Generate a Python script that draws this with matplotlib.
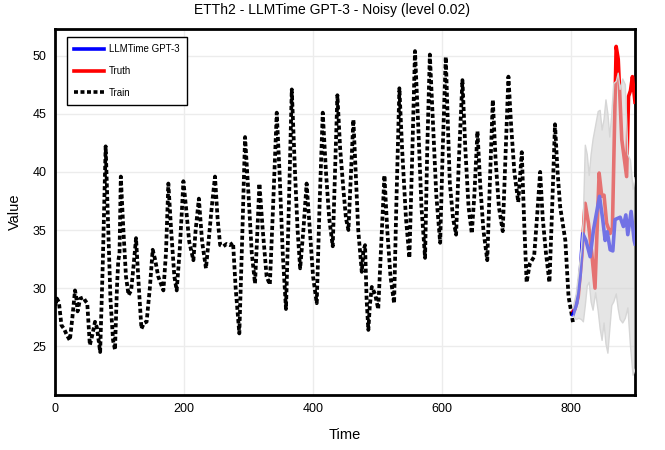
import matplotlib
matplotlib.use("Agg")
import matplotlib.pyplot as plt
from matplotlib.lines import Line2D

plt.rcParams['font.family'] = ['Liberation Sans', 'DejaVu Sans']

# ---- data ----
train_x = [0, 3, 6, 10, 14, 18, 23, 27, 31, 33, 35, 39, 44, 47, 50, 54, 58, 62, 65, 70,
           74, 78.5, 82, 86, 90, 93, 96, 98, 100, 102, 106, 110, 114, 118, 121.4, 125.6, 130, 134,
           138, 142, 147, 151.4, 155, 160, 168, 172, 175.7, 180, 185, 188.6, 193, 197, 199,
           203, 208, 214.5, 218, 223, 228, 234, 238, 243, 248, 252, 256, 261, 266, 271, 276,
           280, 285.7, 290, 294.6, 300, 305, 310, 313, 316.8, 322, 328, 333, 338, 343.7, 348,
           353, 358, 362, 367, 372, 376, 380, 385, 390, 395, 400, 405.7, 410, 415, 420, 425,
           430.5, 434, 437.7, 442, 447, 451, 454.8, 458, 462.5, 466, 470, 475.5, 478, 480.6,
           483, 485.7, 488, 491, 496, 501, 505, 510.6, 515, 520, 525.6, 529, 533.8, 538, 544,
           549.3, 554, 558, 563, 568, 573.6, 577, 581, 586, 591, 597, 601, 605.7, 609, 612,
           617, 621.7, 626, 631.5, 636, 641, 646, 650, 654.8, 659, 664, 670, 674, 678.6, 683,
           688, 694, 698, 702.8, 707, 712, 718, 723.5, 727, 731, 736, 742.6, 747, 752, 756,
           761, 766.4, 770, 775, 779, 783, 791, 796, 800, 803]
train_y = [28.5, 29.1, 28.8, 26.8, 26.5, 26.0, 25.5, 27.5, 29.8, 29.2, 28.0, 29.1, 29.2, 28.9, 28.7, 25.1, 26.0, 27.1, 26.6, 24.5,
           32.0, 42.2, 36.0, 29.0, 25.5, 24.7, 30.0, 32.3, 33.0, 39.6, 35.0, 31.0, 29.4, 29.8, 31.7, 34.3, 30.0, 26.5,
           27.0, 27.1, 30.0, 33.3, 32.5, 31.0, 29.8, 33.0, 39.0, 35.0, 31.0, 29.8, 33.0, 37.0, 39.2,
           37.0, 34.0, 32.4, 35.0, 37.7, 34.0, 31.7, 34.0, 37.0, 39.6, 36.0, 33.7, 33.6, 33.8, 33.7, 33.9,
           30.0, 26.1, 34.0, 43.0, 38.0, 33.0, 30.4, 34.0, 39.0, 35.0, 31.0, 30.3, 37.0, 45.1, 40.0,
           33.0, 28.2, 36.0, 47.1, 40.0, 35.0, 31.7, 35.0, 39.0, 35.0, 31.0, 28.7, 37.0, 45.1, 40.0, 36.0,
           33.6, 40.0, 46.6, 42.0, 38.5, 36.0, 35.0, 39.0, 44.5, 40.0, 35.0, 31.4, 33.2, 33.7,
           29.0, 26.4, 28.5, 30.1, 29.5, 28.2, 33.0, 39.7, 35.0, 31.0, 28.7, 37.0, 47.2, 42.0, 36.0,
           32.6, 42.0, 50.4, 44.0, 37.0, 32.6, 42.0, 50.1, 44.0, 38.0, 33.9, 42.0, 49.9, 44.0, 39.0,
           36.0, 34.6, 41.0, 47.9, 42.0, 37.0, 34.7, 38.0, 43.5, 39.0, 35.0, 32.4, 39.0, 46.2, 41.0,
           37.0, 34.9, 41.0, 48.2, 44.0, 40.0, 37.4, 41.7, 36.0, 30.5, 32.1, 32.7, 36.0, 40.0, 36.0,
           33.0, 30.5, 36.0, 44.1, 40.0, 37.0, 34.1, 29.25, 28.0, 27.0]

truth_x = [803, 806, 811, 816.5, 821.7, 826.8, 832, 837, 843.4, 847.5, 851, 855, 860.5, 864,
           869.8, 873, 878.5, 886, 889, 892, 895, 899]
truth_y = [28.0, 28.2, 29.25, 32.7, 37.3, 35.6, 33.0, 30.0, 39.9, 37.9, 38.0, 35.6, 34.7, 35.2,
           50.8, 49.7, 42.8, 39.6, 46.5, 47.0, 48.2, 46.0]

median_x = [803, 808.8, 814, 818, 823, 829.5, 834.6, 844, 849, 852.7, 856, 860.5, 864.6, 868,
            876, 881, 884.8, 887.8, 893, 897.7, 899]
median_y = [27.7, 28.7, 31.1, 34.7, 34.1, 32.7, 35.0, 37.9, 35.9, 34.1, 34.85, 33.3, 33.2, 35.9,
            36.1, 35.3, 36.3, 34.6, 36.6, 34.1, 33.8]

band_x = [803, 808, 812, 816, 819, 822, 825, 828, 831, 834, 838, 842, 845, 848, 851, 854, 857,
          860, 863, 866, 870, 873, 876, 880, 884, 888, 892, 896, 899]
band_lo = [27.6, 27.3, 27.4, 27.3, 27.1, 28.5, 30.2, 30.5, 28.8, 28.1, 29.6, 28.0, 26.5, 25.5, 27.0,
           25.2, 24.4, 26.5, 28.5, 28.8, 29.5, 28.2, 27.3, 27.0, 27.4, 28.3, 25.0, 22.5, 23.0]
band_hi = [28.3, 29.5, 31.5, 33.5, 36.1, 42.3, 41.5, 39.7, 41.5, 42.8, 44.0, 45.2, 45.3, 43.6, 44.5,
           46.2, 45.0, 43.0, 45.0, 47.6, 47.8, 48.5, 47.1, 48.0, 47.5, 41.5, 41.0, 38.5, 39.5]

title = "ETTh2 - LLMTime GPT-3 - Noisy (level 0.02)"
x_ticks = [0, 200, 400, 600, 800]
y_ticks = [25, 30, 35, 40, 45, 50]

# ---- figure ----
fig = plt.figure(figsize=(6.65, 4.5), dpi=100)
ax = fig.add_axes([55/665, 1 - 395/450, 580/665, 366/450])

ax.plot(train_x, train_y, color='black', lw=2.7, linestyle=(0, (1.1, 0.7)),
        dash_capstyle='butt', zorder=3)
ax.plot(truth_x, truth_y, color='red', lw=2.6, zorder=3)
ax.plot(median_x, median_y, color='blue', lw=2.6, zorder=3)
ax.fill_between(band_x, band_lo, band_hi, facecolor=(0.82, 0.82, 0.82), alpha=0.55,
                edgecolor='none', zorder=4)
ax.plot(band_x, band_lo, color=(0.84, 0.84, 0.84), lw=1.0, zorder=4)
ax.plot(band_x, band_hi, color=(0.84, 0.84, 0.84), lw=1.0, zorder=4)

ax.set_xlim(0, 899)
ax.set_ylim(20.8, 52.3)
ax.set_xticks(x_ticks)
ax.set_yticks(y_ticks)
ax.tick_params(length=0, labelsize=9, pad=6)
ax.grid(True, color='#ececec', lw=1.0, zorder=0)
ax.set_axisbelow(True)
for s in ax.spines.values():
    s.set_color('black')
    s.set_linewidth(2)

ax.set_xlabel("Time", fontsize=10.5, labelpad=9)
ax.set_ylabel("Value", fontsize=10.5, labelpad=8)
fig.text(0.5, 1 - 10/450, title, ha='center', va='center', fontsize=10)

handles = [Line2D([], [], color='blue', lw=2.6),
           Line2D([], [], color='red', lw=2.6),
           Line2D([], [], color='black', lw=2.6, linestyle=(0, (1.1, 0.7)))]
leg = ax.legend(handles, ["LLMTime GPT-3", "Truth", "Train"], loc='upper left',
                bbox_to_anchor=(12/580, 1 - 8/366), fontsize=7.0, frameon=True,
                fancybox=False, edgecolor='black', framealpha=1, borderaxespad=0,
                handlelength=3.1, handletextpad=0.5, labelspacing=1.2,
                borderpad=0.75)
leg.get_frame().set_linewidth(1.0)

fig.savefig("out.png", dpi=100)
